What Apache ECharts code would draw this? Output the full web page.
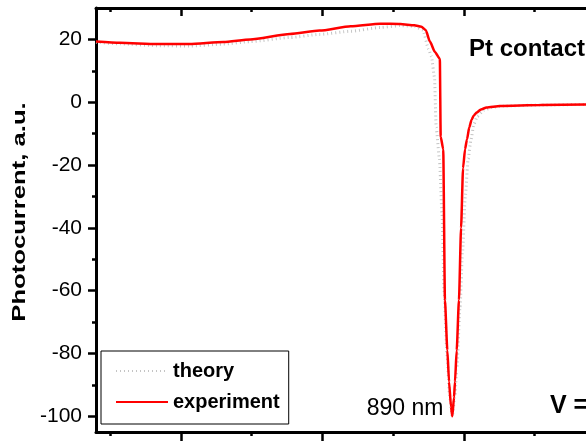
<!DOCTYPE html>
<html>
<head>
<meta charset="utf-8">
<script src="https://cdn.jsdelivr.net/npm/echarts@6/dist/echarts.min.js"></script>
<style>
  html, body { margin: 0; padding: 0; background: #fff; overflow: hidden; }
  /* the plot runs past the right edge of the window, as in the cropped original */
  #main { width: 680px; height: 442px; }
</style>
</head>
<body>
<div id="main"></div>
<script>
// wavelength (nm) / photocurrent (a.u.)
var experiment = [
  [640, 19.3], [657, 18.9], [683, 18.5], [706, 18.5], [730, 19.2], [749, 20.0],
  [777, 21.7], [798, 22.8], [820, 24.2], [841, 25.0], [855, 24.9], [865, 24.5],
  [870, 24.0], [873, 23.0], [876, 19.3], [879.5, 16.0], [883, 13.8], [883.6, -11],
  [885.4, -15], [886.6, -63], [888.3, -79], [889.5, -89], [890.9, -97], [891.8, -100],
  [893, -94], [893.7, -89], [894.9, -79], [896.5, -63], [898, -40], [899.4, -21],
  [900.8, -15], [902.2, -11.8], [903.8, -8], [905.5, -5.5], [907, -4.2], [909, -3.3],
  [912, -2.3], [916, -1.7], [925.5, -1.2], [954, -0.9], [986, -0.7], [1040, -0.5]
];
var theory = [
  [640, 19.1], [657, 18.6], [683, 18.0], [706, 17.9], [730, 18.5], [749, 19.3],
  [777, 20.6], [798, 21.6], [820, 22.6], [841, 23.8], [855, 24.4], [865, 24.2],
  [871, 23.0], [875, 17.0], [877, 14.6], [879.2, 8], [880.4, -8], [882.7, -18],
  [884.5, -35], [886, -60], [888, -80], [890, -94], [891.8, -100], [893.5, -94],
  [895, -85], [897.3, -65], [899, -48], [901, -30], [903, -18], [905, -12],
  [907, -7], [909.5, -4.5], [914, -2.6], [920, -1.6], [928, -1.2], [954, -0.9],
  [986, -0.7], [1040, -0.5]
];
var xMajor = [700, 800, 900, 1000];
var xMinor = [650, 750, 850, 950];
var yMajor = [-100, -80, -60, -40, -20, 0, 20];
var yMinor = [-90, -70, -50, -30, -10, 10];

var myChart = echarts.init(document.getElementById('main'));

function xAx(pos, ticks, len, inside, line) {
  return {
    type: 'value', position: pos, min: 640, max: 1040,
    axisLine: { show: line, onZero: false, lineStyle: { color: '#000', width: 3 } },
    axisTick: { show: true, inside: inside, length: len, customValues: ticks,
      lineStyle: { color: '#000', width: 2.5 } },
    axisLabel: { show: false },
    splitLine: { show: false }
  };
}

myChart.setOption({
  animation: false,
  grid: { left: 96, top: 8, height: 424, width: 566 },
  xAxis: [
    xAx('bottom', xMajor, 9, false, true),
    xAx('bottom', xMinor, 4, false, false),
    xAx('top', xMajor, 8, true, true),
    xAx('top', xMinor, 4, true, false)
  ],
  yAxis: [
    {
      type: 'value', position: 'left', min: -105, max: 30,
      axisLine: { show: true, onZero: false, lineStyle: { color: '#000', width: 3 } },
      axisTick: { show: true, length: 8, customValues: yMajor,
        lineStyle: { color: '#000', width: 2.5 } },
      axisLabel: { customValues: yMajor, margin: 14, color: '#000',
        fontSize: 21, fontFamily: 'Arial, Liberation Sans' },
      splitLine: { show: false }
    },
    {
      type: 'value', position: 'left', min: -105, max: 30,
      axisLine: { show: false },
      axisTick: { show: true, length: 4, customValues: yMinor,
        lineStyle: { color: '#000', width: 2.5 } },
      axisLabel: { show: false },
      splitLine: { show: false }
    }
  ],
  legend: {
    orient: 'vertical', left: 101, top: 351,
    padding: [10, 9, 12, 14], itemGap: 11,
    itemWidth: 52, itemHeight: 20,
    borderColor: '#000', borderWidth: 1, borderRadius: 0,
    itemStyle: { opacity: 0 },
    textStyle: { color: '#000', fontSize: 20, fontWeight: 'bold',
      fontFamily: 'Arial, Liberation Sans' },
    data: ['theory', 'experiment']
  },
  graphic: [
    { type: 'text', x: 20, y: 212, rotation: Math.PI / 2, scaleX: 1.35,
      style: { text: 'Photocurrent, a.u.', font: 'bold 19px Arial, Liberation Sans',
        fill: '#000', align: 'center', verticalAlign: 'middle' } },
    { type: 'text', x: 405, y: 409,
      style: { text: '890 nm', font: '23px Arial, Liberation Sans',
        fill: '#000', align: 'center', verticalAlign: 'middle' } },
    { type: 'text', x: 469, y: 49,
      style: { text: 'Pt contact', font: 'bold 24px Arial, Liberation Sans',
        fill: '#000', align: 'left', verticalAlign: 'middle' } },
    { type: 'text', x: 550, y: 406,
      style: { text: 'V =', font: 'bold 25px Arial, Liberation Sans',
        fill: '#000', align: 'left', verticalAlign: 'middle' } }
  ],
  series: [
    {
      name: 'theory', type: 'line', data: theory,
      symbol: 'none', smooth: 0.2, smoothMonotone: 'x',
      lineStyle: { color: '#c4c4c4', width: 3, type: [1, 3] },
      itemStyle: { color: '#c4c4c4' },
      z: 2
    },
    {
      name: 'experiment', type: 'line', data: experiment,
      symbol: 'none', smooth: 0.2, smoothMonotone: 'x',
      lineStyle: { color: '#ff0000', width: 2.5 },
      itemStyle: { color: '#ff0000' },
      z: 3
    }
  ]
});
</script>
</body>
</html>
